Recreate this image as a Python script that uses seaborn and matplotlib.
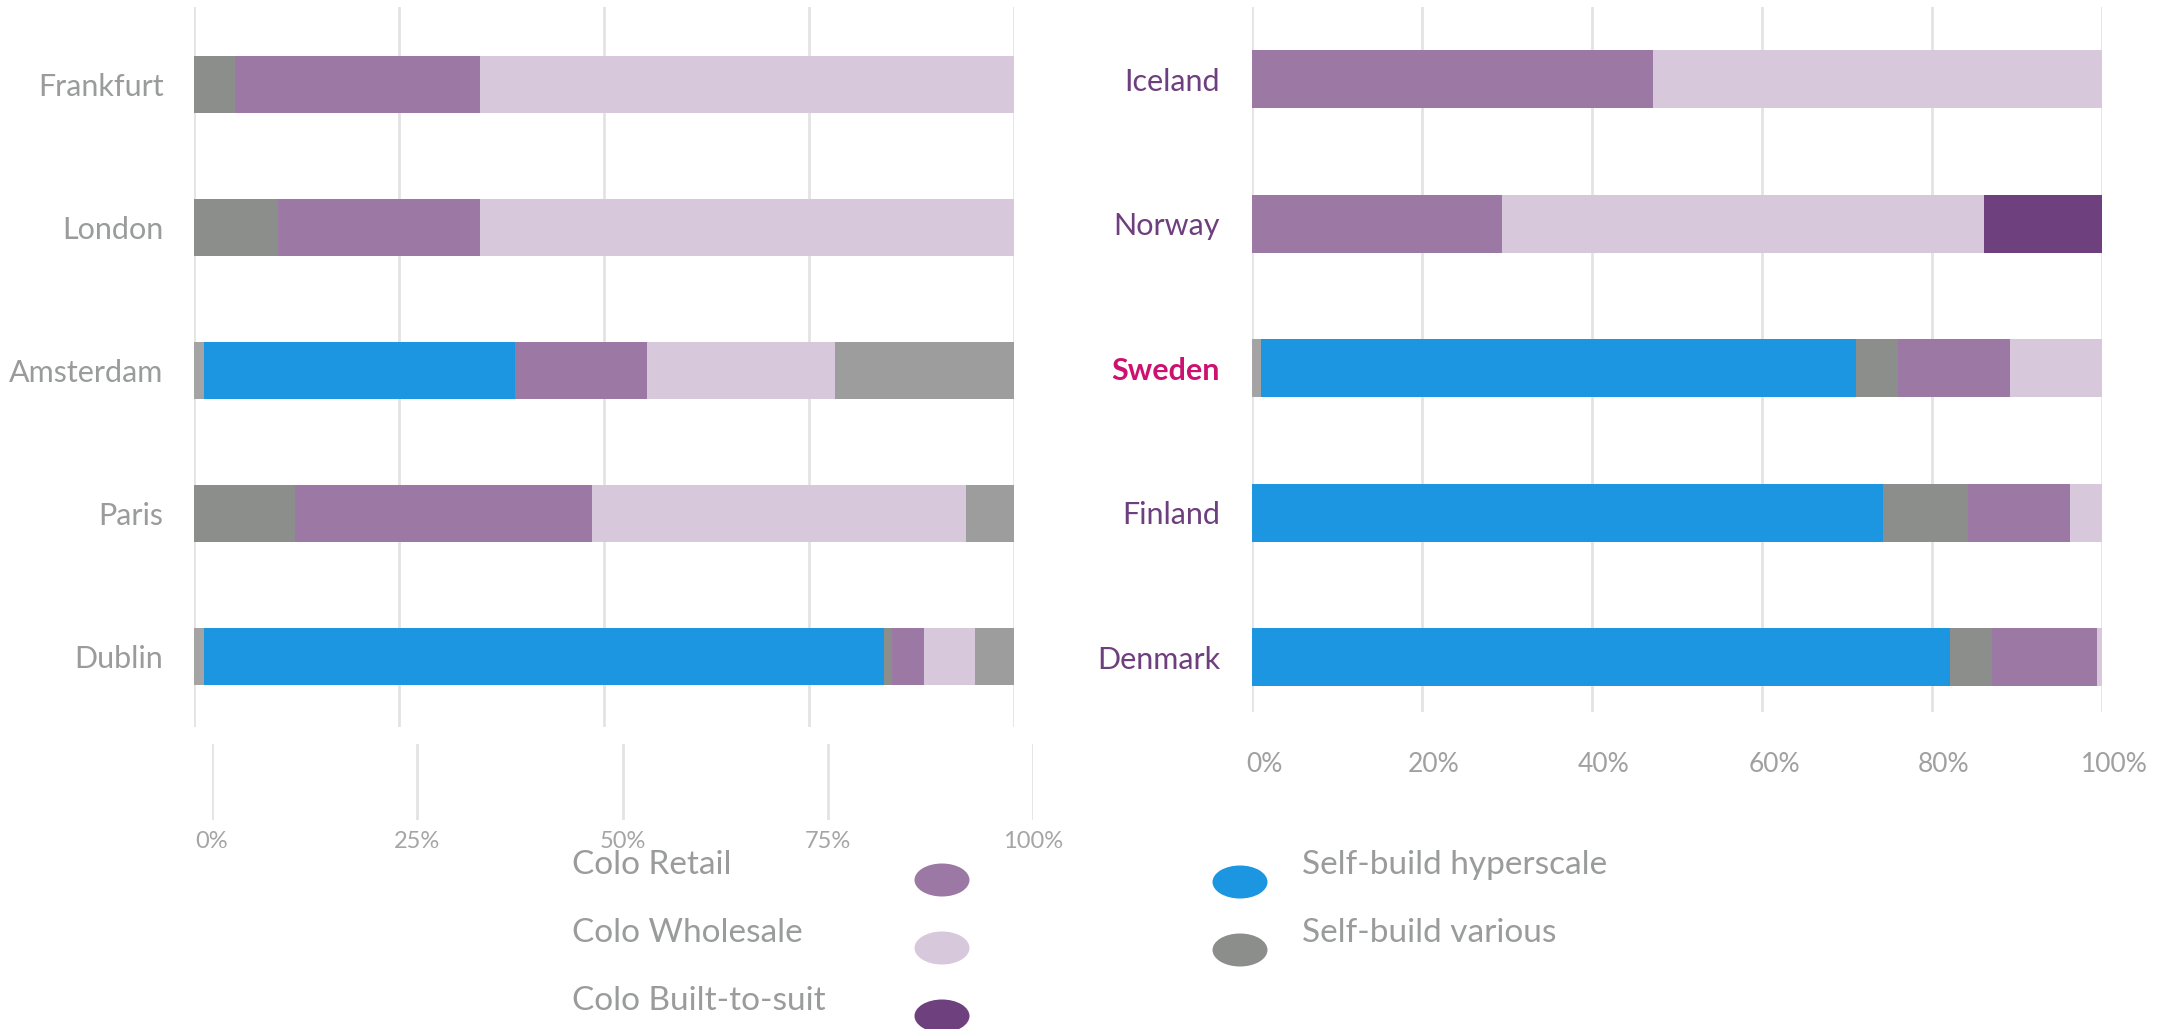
import numpy as np
import pandas as pd
import matplotlib
matplotlib.use("Agg")
import matplotlib.pyplot as plt
import matplotlib.transforms as mtransforms
from matplotlib.patches import Ellipse
from matplotlib.ticker import PercentFormatter
import seaborn as sns

# ----- Data (share of capacity, %) -----
segments = ["Other", "Self-build hyperscale", "Self-build various", "Colo Retail",
            "Colo Wholesale", "Colo Built-to-suit", "Other 2"]

left_cities = ["Frankfurt", "London", "Amsterdam", "Paris", "Dublin"]
left_other = [0, 0, 1.2, 0, 1.2]
left_hyperscale = [0, 0, 38.0, 0, 82.9]
left_various = [5.0, 10.3, 0, 12.3, 1.0]
left_retail = [29.9, 24.6, 16.0, 36.2, 3.9]
left_wholesale = [65.1, 65.1, 23.0, 45.6, 6.2]
left_bts = [0, 0, 0, 0, 0]
left_other2 = [0, 0, 21.8, 5.9, 4.8]

right_countries = ["Iceland", "Norway", "Sweden", "Finland", "Denmark"]
right_other = [0, 0, 1.1, 0, 0]
right_hyperscale = [0, 0, 69.9, 74.2, 82.1]
right_various = [0, 0, 5.0, 10.0, 4.9]
right_retail = [47.2, 29.4, 13.2, 12.0, 12.4]
right_wholesale = [52.8, 56.7, 10.8, 3.8, 0.6]
right_bts = [0, 13.9, 0, 0, 0]
right_other2 = [0, 0, 0, 0, 0]

left_ticks = [0, 25, 50, 75, 100]
right_ticks = [0, 20, 40, 60, 80, 100]

legend_left = ["Colo Retail", "Colo Wholesale", "Colo Built-to-suit"]
legend_right = ["Self-build hyperscale", "Self-build various"]

colors = {
    "Other": "#a3a4a3",
    "Self-build hyperscale": "#1c96e0",
    "Self-build various": "#8c8e8c",
    "Colo Retail": "#9c79a5",
    "Colo Wholesale": "#d8c8dc",
    "Colo Built-to-suit": "#6e407e",
    "Other 2": "#9c9d9c",
}

GRID = "#e3e3e3"
TXT = "#9a9b9b"

sns.set_theme(style="white")
plt.rcParams["font.family"] = ["Lato", "DejaVu Sans"]

W, H = 2160, 1029
fig = plt.figure(figsize=(W / 100, H / 100), dpi=100)


def px_axes(x0, y0, x1, y1):
    # pixel box (top-left origin) -> figure axes
    return fig.add_axes([x0 / W, 1 - y1 / H, (x1 - x0) / W, (y1 - y0) / H])


def stacked(ax, labels, series):
    df = pd.DataFrame(dict(zip(segments, series)), index=labels)
    cum = df.cumsum(axis=1)
    # draw from the largest cumulative total down so each segment shows
    for seg in segments[::-1]:
        sns.barplot(x=cum[seg].values, y=labels, color=colors[seg], orient="h",
                    width=0.4, saturation=1, ax=ax, linewidth=0)
    ax.set_xlim(0, 100)
    ax.xaxis.grid(True, color=GRID, linewidth=2)
    ax.yaxis.grid(False)
    ax.set_axisbelow(True)
    for s in ax.spines.values():
        s.set_visible(False)
    ax.tick_params(axis="both", length=0)
    ax.set_xlabel("")
    ax.set_ylabel("")


# ----- Left panel -----
axl = px_axes(194, 7, 1014, 727)
stacked(axl, left_cities, [left_other, left_hyperscale, left_various, left_retail,
                           left_wholesale, left_bts, left_other2])
axl.set_ylim(4.49, -0.54)
axl.set_xticks(left_ticks)
axl.tick_params(axis="x", labelbottom=False)
axl.tick_params(axis="y", pad=22, labelsize=22, labelcolor=TXT)

# offset tick strip under the left panel
axt = px_axes(212, 744, 1033, 820)
axt.set_xlim(0, 100)
axt.set_ylim(0, 1)
axt.set_xticks(left_ticks)
axt.set_yticks([])
axt.xaxis.set_major_formatter(PercentFormatter(100, decimals=0))
axt.xaxis.grid(True, color=GRID, linewidth=2)
for s in axt.spines.values():
    s.set_visible(False)
axt.tick_params(axis="x", length=0, pad=8, labelsize=17, labelcolor="#a5a5a5")
axt.patch.set_alpha(0)

# ----- Right panel -----
axr = px_axes(1252, 7, 2102, 712)
stacked(axr, right_countries, [right_other, right_hyperscale, right_various, right_retail,
                               right_wholesale, right_bts, right_other2])
axr.set_ylim(4.38, -0.5)
axr.set_xticks(right_ticks)
axr.xaxis.set_major_formatter(PercentFormatter(100, decimals=0))
axr.tick_params(axis="x", pad=29, labelsize=19, labelcolor="#a0a0a0")
shift = mtransforms.ScaledTranslation(12 / 100, 0, fig.dpi_scale_trans)
for lbl in axr.get_xticklabels():
    lbl.set_transform(lbl.get_transform() + shift)
axr.tick_params(axis="y", pad=23, labelsize=22, labelcolor="#6e3f7e")
for lbl in axr.get_yticklabels():
    if lbl.get_text() == "Sweden":
        lbl.set_color("#cc1170")
        lbl.set_fontweight("bold")

# ----- Legend -----
axg = px_axes(0, 0, W, H)
axg.set_xlim(0, W)
axg.set_ylim(H, 0)
axg.axis("off")
for i, name in enumerate(legend_left):
    ty = 865 + i * 68
    axg.text(572, ty, name, fontsize=24, color=TXT, va="center", ha="left")
    axg.add_patch(Ellipse((942, ty + 15), 55, 33, color=colors[name], lw=0))
for i, name in enumerate(legend_right):
    ty = 865 + i * 68
    axg.add_patch(Ellipse((1240, ty + 17), 55, 33, color=colors[name], lw=0))
    axg.text(1302, ty, name, fontsize=24, color=TXT, va="center", ha="left")

fig.savefig("out.png", dpi=100)
